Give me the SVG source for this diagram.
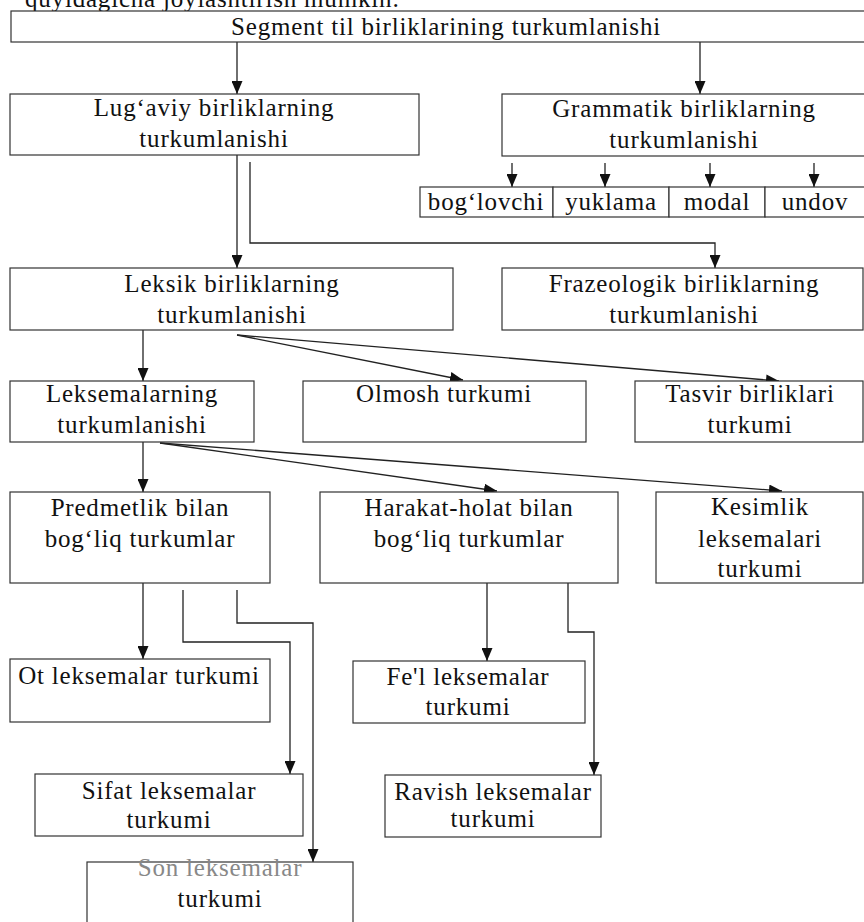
<svg xmlns="http://www.w3.org/2000/svg" width="864" height="922" viewBox="0 0 864 922">
<defs>
<style>
.bg{fill:#ffffff}
.box{fill:#ffffff;stroke:#333;stroke-width:1.2}
.t{font-family:"Liberation Serif","Times New Roman",serif;font-size:25px;fill:#111;text-anchor:middle;letter-spacing:0.8px}
.c{fill:none;stroke:#222;stroke-width:1.3}
.faded{fill:#888}
</style>
<marker id="ah" markerWidth="13" markerHeight="11" refX="13" refY="5.5" orient="auto" markerUnits="userSpaceOnUse">
<path d="M0,0 L13,5.5 L0,11 z" fill="#111"/>
</marker>
</defs>
<rect class="bg" x="0" y="0" width="864" height="922"/>
<text x="25" y="7" class="t" style="text-anchor:start">quyidagicha joylashtirish mumkin:</text>

<g id="connectors">
<line class="c" x1="237" y1="42" x2="237" y2="94" marker-end="url(#ah)"/>
<line class="c" x1="700" y1="42" x2="700" y2="94" marker-end="url(#ah)"/>
<line class="c" x1="512" y1="163" x2="512" y2="187" marker-end="url(#ah)"/>
<line class="c" x1="605" y1="163" x2="605" y2="187" marker-end="url(#ah)"/>
<line class="c" x1="710" y1="163" x2="710" y2="187" marker-end="url(#ah)"/>
<line class="c" x1="814" y1="163" x2="814" y2="187" marker-end="url(#ah)"/>
<line class="c" x1="237" y1="155" x2="237" y2="268" marker-end="url(#ah)"/>
<polyline class="c" points="250,162 250,243 715,243 715,268" marker-end="url(#ah)"/>
<line class="c" x1="143" y1="330" x2="143" y2="381" marker-end="url(#ah)"/>
<line class="c" x1="237" y1="335" x2="463" y2="380" marker-end="url(#ah)"/>
<line class="c" x1="237" y1="335" x2="779" y2="381" marker-end="url(#ah)"/>
<line class="c" x1="143" y1="432" x2="143" y2="492" marker-end="url(#ah)"/>
<line class="c" x1="160" y1="443" x2="497" y2="491" marker-end="url(#ah)"/>
<line class="c" x1="160" y1="443" x2="782" y2="491" marker-end="url(#ah)"/>
<line class="c" x1="143" y1="577" x2="143" y2="659" marker-end="url(#ah)"/>
<polyline class="c" points="183,590 183,642 290,642 290,774" marker-end="url(#ah)"/>
<polyline class="c" points="237,590 237,623 313,623 313,862" marker-end="url(#ah)"/>
<line class="c" x1="487" y1="580" x2="487" y2="661" marker-end="url(#ah)"/>
<polyline class="c" points="568,577 568,632 594,632 594,775" marker-end="url(#ah)"/>
</g>

<g id="segment">
<rect class="box" x="11" y="11" width="856" height="31"/>
<text class="t" x="446" y="35">Segment til birliklarining turkumlanishi</text>
</g>
<g id="lugaviy">
<rect class="box" x="10" y="94" width="409" height="61"/>
<text class="t" x="214" y="116">Lug‘aviy birliklarning</text>
<text class="t" x="214" y="147">turkumlanishi</text>
</g>
<g id="grammatik">
<rect class="box" x="502" y="94" width="365" height="62"/>
<text class="t" x="684" y="117">Grammatik birliklarning</text>
<text class="t" x="684" y="148">turkumlanishi</text>
</g>
<g id="boglovchi">
<rect class="box" x="420" y="187" width="133" height="30"/>
<text class="t" x="486" y="210">bog‘lovchi</text>
</g>
<g id="yuklama">
<rect class="box" x="553" y="187" width="116" height="30"/>
<text class="t" x="611" y="210">yuklama</text>
</g>
<g id="modal">
<rect class="box" x="669" y="187" width="96" height="30"/>
<text class="t" x="717" y="210">modal</text>
</g>
<g id="undov">
<rect class="box" x="765" y="187" width="102" height="30"/>
<text class="t" x="815" y="210">undov</text>
</g>
<g id="leksik">
<rect class="box" x="10" y="268" width="443" height="62"/>
<text class="t" x="232" y="292">Leksik birliklarning</text>
<text class="t" x="232" y="323">turkumlanishi</text>
</g>
<g id="frazeologik">
<rect class="box" x="502" y="268" width="361" height="62"/>
<text class="t" x="684" y="292">Frazeologik birliklarning</text>
<text class="t" x="684" y="323">turkumlanishi</text>
</g>
<g id="leksemalarning">
<rect class="box" x="10" y="381" width="244" height="61"/>
<text class="t" x="132" y="402">Leksemalarning</text>
<text class="t" x="132" y="433">turkumlanishi</text>
</g>
<g id="olmosh">
<rect class="box" x="303" y="381" width="283" height="61"/>
<text class="t" x="444" y="402">Olmosh turkumi</text>
</g>
<g id="tasvir">
<rect class="box" x="635" y="381" width="228" height="61"/>
<text class="t" x="750" y="402">Tasvir birliklari</text>
<text class="t" x="750" y="433">turkumi</text>
</g>
<g id="predmetlik">
<rect class="box" x="10" y="492" width="260" height="91"/>
<text class="t" x="140" y="516">Predmetlik bilan</text>
<text class="t" x="140" y="547">bog‘liq turkumlar</text>
</g>
<g id="harakat">
<rect class="box" x="320" y="492" width="298" height="91"/>
<text class="t" x="469" y="516">Harakat-holat bilan</text>
<text class="t" x="469" y="547">bog‘liq turkumlar</text>
</g>
<g id="kesimlik">
<rect class="box" x="656" y="492" width="207" height="91"/>
<text class="t" x="760" y="515">Kesimlik</text>
<text class="t" x="760" y="547">leksemalari</text>
<text class="t" x="760" y="577">turkumi</text>
</g>
<g id="ot">
<rect class="box" x="10" y="659" width="260" height="63"/>
<text class="t" x="139" y="684">Ot leksemalar turkumi</text>
</g>
<g id="fel">
<rect class="box" x="353" y="661" width="232" height="62"/>
<text class="t" x="468" y="685">Fe'l leksemalar</text>
<text class="t" x="468" y="715">turkumi</text>
</g>
<g id="sifat">
<rect class="box" x="35" y="774" width="268" height="62"/>
<text class="t" x="169" y="799">Sifat leksemalar</text>
<text class="t" x="169" y="828">turkumi</text>
</g>
<g id="ravish">
<rect class="box" x="385" y="775" width="216" height="62"/>
<text class="t" x="493" y="800">Ravish leksemalar</text>
<text class="t" x="493" y="827">turkumi</text>
</g>
<g id="son">
<rect class="box" x="87" y="862" width="266" height="70"/>
<text class="t faded" x="220" y="876">Son leksemalar</text>
<text class="t" x="220" y="907">turkumi</text>
</g>
</svg>
